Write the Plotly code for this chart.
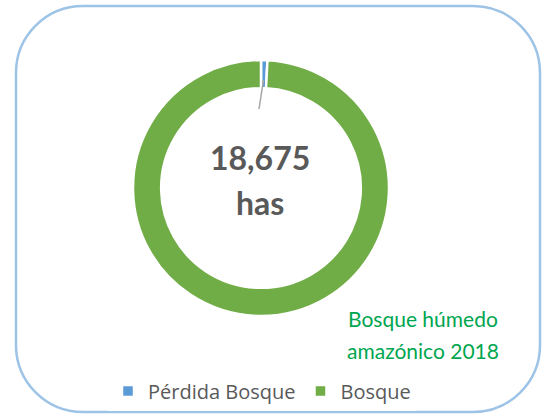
import plotly.graph_objects as go

labels = ["Pérdida Bosque", "Bosque"]
values = [150, 18525]
colors = ["#5B9BD5", "#70AD47"]
center_value = "18,675"
center_unit = "has"
title_lines = ["Bosque húmedo", "amazónico 2018"]

W, H = 547, 414
def px(x): return x / W
def py(y): return 1 - y / H

fig = go.Figure(go.Pie(
    labels=labels, values=values, hole=0.78, sort=False, direction="clockwise",
    rotation=0, marker=dict(colors=colors, line=dict(color="white", width=2.5)),
    textinfo="none", hoverinfo="label+value",
    domain=dict(x=[px(133), px(389)], y=[py(316), py(60)]),
))

# rounded border
x0, x1, y0, y1, r = 16, 540, 6, 412, 67
k = 0.5523 * r
def P(x, y): return f"{px(x):.5f},{py(y):.5f}"
path = (f"M {P(x0+r,y0)} L {P(x1-r,y0)} C {P(x1-r+k,y0)} {P(x1,y0+r-k)} {P(x1,y0+r)} "
        f"L {P(x1,y1-r)} C {P(x1,y1-r+k)} {P(x1-r+k,y1)} {P(x1-r,y1)} "
        f"L {P(x0+r,y1)} C {P(x0+r-k,y1)} {P(x0,y1-r+k)} {P(x0,y1-r)} "
        f"L {P(x0,y0+r)} C {P(x0,y0+r-k)} {P(x0+r-k,y0)} {P(x0+r,y0)} Z")
fig.add_shape(type="path", path=path, xref="paper", yref="paper",
              line=dict(color="#9DC3E6", width=2.5), layer="below")
# leader line
fig.add_shape(type="line", xref="paper", yref="paper",
              x0=px(263.5), y0=py(80), x1=px(259), y1=py(109),
              line=dict(color="#A6A6A6", width=1.5))

fig.add_annotation(x=px(260), y=py(157), xref="paper", yref="paper", text=f"<b>{center_value}</b>",
                   showarrow=False, xanchor="center", yanchor="middle",
                   font=dict(family="Lato", size=32, color="#595959"))
fig.add_annotation(x=px(260), y=py(203), xref="paper", yref="paper", text=f"<b>{center_unit}</b>",
                   showarrow=False, xanchor="center", yanchor="middle",
                   font=dict(family="Lato", size=32, color="#595959"))
for i, line in enumerate(title_lines):
    fig.add_annotation(x=px(423), y=py(318 + 32 * i), xref="paper", yref="paper",
                       text=line, showarrow=False, xanchor="center", yanchor="middle",
                       font=dict(family="Lato", size=21, color="#00A650"))

fig.update_layout(
    width=W, height=H, margin=dict(l=0, r=0, t=0, b=0),
    paper_bgcolor="white", plot_bgcolor="white",
    showlegend=True,
    legend=dict(orientation="h", x=px(262), xanchor="center", y=py(391), yanchor="middle",
                font=dict(family="Open Sans", size=20, color="#595959"), itemwidth=30,
                traceorder="normal"),
)
fig.write_html("out.html", config={"displayModeBar": False},
               post_script="document.body.style.margin='0';")
